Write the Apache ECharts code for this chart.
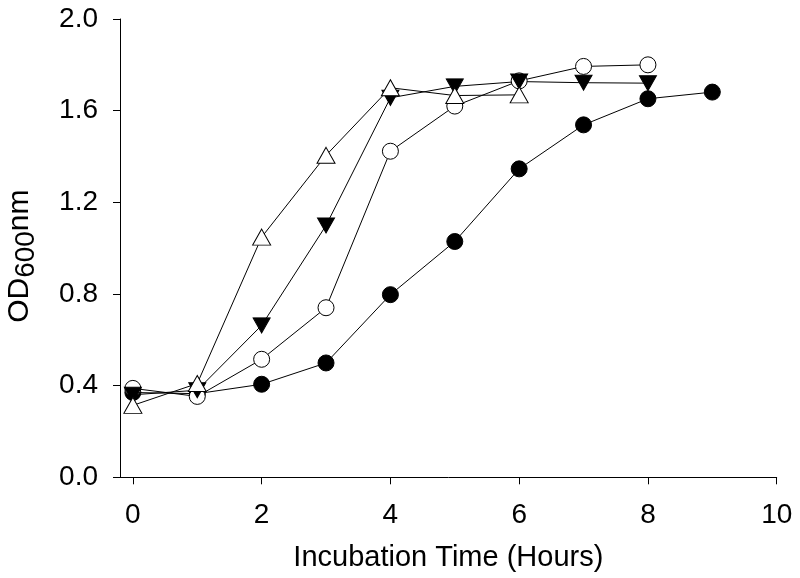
<!DOCTYPE html>
<html><head><meta charset="utf-8">
<script src="https://cdn.jsdelivr.net/npm/echarts@6/dist/echarts.min.js"></script>
<style>html,body{margin:0;padding:0;background:#fff}#c{width:800px;height:578px}</style>
</head><body><div id="c"></div>
<script>
const hours = [0,1,2,3,4,5,6,7,8,9];
const filledCircle = [0.37,0.365,0.406,0.499,0.797,1.029,1.346,1.538,1.652,1.681];
const openCircle = [0.388,0.353,0.515,0.74,1.423,1.62,1.73,1.793,1.80];
const filledDown = [0.36,0.38,0.663,1.099,1.656,1.706,1.727,1.722,1.72];
const openUp = [0.314,0.409,1.048,1.405,1.70,1.666,1.669];
const xTicks = [0,2,4,6,8,10];
const yTicks = [0,0.4,0.8,1.2,1.6,2.0];

const tri = 'path://M0,0 L10,0 L5,9 Z';
const triUp = 'path://M5,0 L10,9 L0,9 Z';
function pts(arr){ return arr.map((v,i)=>[hours[i], v]); }
const font = 'Liberation Sans, Arial, sans-serif';
const chart = echarts.init(document.getElementById('c'));
chart.setOption({
  animation:false,
  grid:{left:120,right:23.3,top:19,bottom:100.7,containLabel:false,outerBoundsMode:'none'},
  xAxis:{type:'value',min:-0.2,max:10,
    name:'Incubation Time (Hours)',nameLocation:'middle',nameGap:66,
    nameTextStyle:{fontFamily:font,fontSize:29,color:'#000',verticalAlign:'top'},
    axisLine:{show:true,onZero:false,lineStyle:{color:'#000',width:1}},
    axisTick:{show:true,length:7,inside:false,customValues:xTicks,lineStyle:{color:'#000'}},
    axisLabel:{customValues:xTicks,fontFamily:font,fontSize:28,color:'#000',margin:24},
    splitLine:{show:false}},
  yAxis:{type:'value',min:0,max:2,interval:0.4,
    name:'OD{s|600}nm',nameLocation:'middle',nameGap:80,
    nameTextStyle:{fontFamily:font,fontSize:30,color:'#000',padding:[0,16,0,0],
      rich:{s:{fontFamily:font,fontSize:28,color:'#000',padding:[12,0,0,0]}}},
    axisLine:{show:true,onZero:false,lineStyle:{color:'#000',width:1}},
    axisTick:{show:true,length:7,lineStyle:{color:'#000'}},
    axisLabel:{fontFamily:font,fontSize:28,color:'#000',margin:22,
      formatter:v=>v.toFixed(1)},
    splitLine:{show:false}},
  series:[
    {type:'line',data:pts(filledCircle),symbol:'circle',symbolSize:16,
     lineStyle:{color:'#000',width:1},itemStyle:{color:'#000',borderColor:'#000',borderWidth:1}},
    {type:'line',data:pts(openCircle),symbol:'circle',symbolSize:16,
     lineStyle:{color:'#000',width:1},itemStyle:{color:'#fff',borderColor:'#000',borderWidth:1}},
    {type:'line',data:pts(filledDown),symbol:tri,symbolSize:[17,15],
     lineStyle:{color:'#000',width:1},itemStyle:{color:'#000',borderColor:'#000',borderWidth:1}},
    {type:'line',data:pts(openUp),symbol:triUp,symbolSize:[18,16],
     lineStyle:{color:'#000',width:1},itemStyle:{color:'#fff',borderColor:'#000',borderWidth:1}}
  ]
});
</script></body></html>
